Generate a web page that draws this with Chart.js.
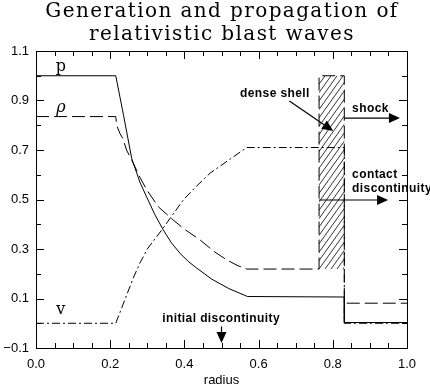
<!DOCTYPE html>
<html>
<head>
<meta charset="utf-8">
<script src="https://cdn.jsdelivr.net/npm/chart.js@4.4.0/dist/chart.umd.min.js"></script>
<style>
  html, body { margin: 0; padding: 0; background: #fff; }
  #wrap { width: 430px; height: 386px; }
</style>
</head>
<body>
<div id="wrap"><canvas id="blastChart" width="430" height="386"></canvas></div>
<script>
// profiles (radius -> value)
const pRadius   = [0, 0.215, 0.236, 0.258, 0.280, 0.298, 0.320, 0.343, 0.365, 0.388, 0.410, 0.433, 0.474, 0.520, 0.570, 0.831, 0.831, 1.0];
const pValues   = [1.0, 1.0, 0.84, 0.666, 0.57, 0.511, 0.44, 0.377, 0.325, 0.283, 0.25, 0.223, 0.178, 0.14, 0.108, 0.106, 0.003, 0.003];

const rhoRadius = [0, 0.215, 0.2175, 0.226, 0.234, 0.244, 0.258, 0.280, 0.298, 0.330, 0.370, 0.400, 0.442, 0.480, 0.514, 0.545, 0.568, 0.763, 0.763, 0.831, 0.831, 1.0];
const rhoValues = [0.835, 0.835, 0.80, 0.767, 0.747, 0.70, 0.66, 0.59, 0.54, 0.47, 0.417, 0.38, 0.337, 0.29, 0.256, 0.232, 0.219, 0.219, 1.0, 1.0, 0.081, 0.081];

const vRadius   = [0, 0.215, 0.262, 0.280, 0.300, 0.339, 0.397, 0.430, 0.469, 0.520, 0.568, 0.831, 0.831, 1.0];
const vValues   = [0, 0, 0.182, 0.243, 0.30, 0.377, 0.498, 0.55, 0.606, 0.66, 0.71, 0.71, 0, 0];

// dense shell (hatched box)
const shellRadius = [0.763, 0.831];
const shellRange  = [0.219, 1.0];

const xTickLabels = ['0.0', '0.2', '0.4', '0.6', '0.8', '1.0'];
const yTickLabels = ['\u22120.1', '0.1', '0.3', '0.5', '0.7', '0.9', '1.1'];

const toPoints = (xs, ys) => xs.map((x, i) => ({ x: x, y: ys[i] }));

function xLabel(v) {
  const s = v.toFixed(1);
  return Math.abs(v * 5 - Math.round(v * 5)) < 1e-6 && xTickLabels.includes(s) ? s : '';
}
function yLabel(v) {
  const s = v < 0 ? '\u2212' + Math.abs(v).toFixed(1) : v.toFixed(1);
  const k = Math.round(v * 10);
  return Math.abs(v * 10 - k) < 1e-6 && k % 2 !== 0 && yTickLabels.includes(s) ? s : '';
}

// inward tick marks on all four sides + frame
const frameTicks = {
  id: 'frameTicks',
  afterDraw(chart) {
    const { ctx, chartArea: a, scales } = chart;
    ctx.save();
    ctx.strokeStyle = '#000';
    ctx.lineWidth = 1;
    ctx.strokeRect(a.left + 0.5, a.top + 0.5, a.right - a.left, a.bottom - a.top);
    ctx.beginPath();
    scales.x.ticks.forEach(t => {
      const px = Math.round(scales.x.getPixelForValue(t.value)) + 0.5;
      const len = xLabel(t.value) ? 8 : 5;
      ctx.moveTo(px, a.bottom); ctx.lineTo(px, a.bottom - len);
      ctx.moveTo(px, a.top); ctx.lineTo(px, a.top + len);
    });
    scales.y.ticks.forEach(t => {
      const py = Math.round(scales.y.getPixelForValue(t.value)) + 0.5;
      const len = yLabel(t.value) ? 8 : 5;
      ctx.moveTo(a.left, py); ctx.lineTo(a.left + len, py);
      ctx.moveTo(a.right, py); ctx.lineTo(a.right - len, py);
    });
    ctx.stroke();
    ctx.restore();
  }
};

// hatched dense shell
const shellHatch = {
  id: 'shellHatch',
  beforeDatasetsDraw(chart) {
    const { ctx, scales } = chart;
    const x0 = scales.x.getPixelForValue(shellRadius[0]);
    const x1 = scales.x.getPixelForValue(shellRadius[1]);
    const y0 = scales.y.getPixelForValue(shellRange[1]);
    const y1 = scales.y.getPixelForValue(shellRange[0]);
    ctx.save();
    ctx.beginPath();
    ctx.rect(x0, y0, x1 - x0, y1 - y0);
    ctx.clip();
    ctx.strokeStyle = '#000';
    ctx.lineWidth = 0.8;
    ctx.beginPath();
    const h = y1 - y0;
    const run = h / 1.4;
    for (let s = x0 - run; s < x1 + 6; s += 6) {
      ctx.moveTo(s, y1);
      ctx.lineTo(s + run, y0);
    }
    ctx.stroke();
    ctx.restore();
  }
};

function arrow(ctx, x0, y0, x1, y1) {
  const ang = Math.atan2(y1 - y0, x1 - x0);
  const hl = 11, hw = 5;
  ctx.beginPath();
  ctx.moveTo(x0, y0);
  ctx.lineTo(x1 - hl * Math.cos(ang), y1 - hl * Math.sin(ang));
  ctx.stroke();
  ctx.beginPath();
  ctx.moveTo(x1, y1);
  ctx.lineTo(x1 - hl * Math.cos(ang) + hw * Math.sin(ang), y1 - hl * Math.sin(ang) - hw * Math.cos(ang));
  ctx.lineTo(x1 - hl * Math.cos(ang) - hw * Math.sin(ang), y1 - hl * Math.sin(ang) + hw * Math.cos(ang));
  ctx.closePath();
  ctx.fill();
}

// text notes and arrows, placed in data units
const notes = {
  id: 'notes',
  afterDraw(chart) {
    const { ctx, scales } = chart;
    const X = r => scales.x.getPixelForValue(r);
    const Y = v => scales.y.getPixelForValue(v);
    ctx.save();
    ctx.fillStyle = '#000';
    ctx.strokeStyle = '#000';
    ctx.lineWidth = 1.2;

    // title
    ctx.font = '20px "DejaVu Serif"';
    ctx.letterSpacing = '1.4px';
    ctx.textAlign = 'center';
    ctx.textBaseline = 'alphabetic';
    ctx.fillText('Generation and propagation of', 222, 17);
    ctx.fillText('relativistic blast waves', 222, 40);
    ctx.letterSpacing = '0px';

    // curve names
    ctx.textBaseline = 'middle';
    ctx.font = '16px "DejaVu Serif"';
    ctx.fillText('p', X(0.067), Y(1.038));
    ctx.font = 'italic 16px "DejaVu Serif"';
    ctx.fillText('\u03C1', X(0.067), Y(0.869));
    ctx.font = '16px "DejaVu Serif"';
    ctx.fillText('v', X(0.067), Y(0.054));

    ctx.font = 'bold 12px "Liberation Sans"';
    ctx.letterSpacing = '0.4px';
    ctx.textAlign = 'left';
    ctx.fillText('dense shell', X(0.55), Y(0.929));
    ctx.fillText('shock', X(0.852), Y(0.868));
    ctx.fillText('contact', X(0.852), Y(0.599));
    ctx.fillText('discontinuity', X(0.852), Y(0.545));
    ctx.textAlign = 'center';
    ctx.fillText('initial discontinuity', X(0.499), Y(0.017));
    ctx.letterSpacing = '0px';

    arrow(ctx, X(0.683), Y(0.898), X(0.801), Y(0.777));
    arrow(ctx, X(0.831), Y(0.829), X(0.981), Y(0.829));
    arrow(ctx, X(0.763), Y(0.498), X(0.949), Y(0.498));
    arrow(ctx, X(0.5), Y(-0.013), X(0.5), Y(-0.08));
    ctx.restore();
  }
};

const ctx = document.getElementById('blastChart').getContext('2d');
new Chart(ctx, {
  type: 'scatter',
  data: {
    datasets: [
      { label: 'p', data: toPoints(pRadius, pValues), borderDash: [] },
      { label: 'rho', data: toPoints(rhoRadius, rhoValues), borderDash: [13, 5] },
      { label: 'v', data: toPoints(vRadius, vValues), borderDash: [8, 3, 2, 3] }
    ].map(d => Object.assign(d, {
      showLine: true, borderColor: '#000', borderWidth: 1, pointRadius: 0, tension: 0, fill: false
    }))
  },
  options: {
    responsive: false,
    animation: false,
    devicePixelRatio: 1,
    layout: { padding: { top: 51, right: 23, left: 0, bottom: 0 } },
    plugins: { legend: { display: false }, tooltip: { enabled: false }, title: { display: false } },
    scales: {
      x: {
        type: 'linear', min: 0, max: 1,
        grid: { display: false, drawTicks: false },
        border: { display: false },
        ticks: { stepSize: 0.05, autoSkip: false, maxRotation: 0, padding: 9, color: '#000',
                 font: { family: 'Liberation Sans', size: 13 }, callback: v => xLabel(v) },
        title: { display: true, text: 'radius', color: '#000', padding: { top: 0, bottom: -2 },
                 font: { family: 'Liberation Sans', size: 13 } },
        afterFit: s => { s.height = 38; }
      },
      y: {
        type: 'linear', min: -0.1, max: 1.1,
        grid: { display: false, drawTicks: false },
        border: { display: false },
        ticks: { stepSize: 0.1, autoSkip: false, padding: 7, color: '#000',
                 font: { family: 'Liberation Sans', size: 13 }, callback: v => yLabel(v) },
        afterFit: s => { s.width = 36; }
      }
    }
  },
  plugins: [shellHatch, frameTicks, notes]
});
</script>
</body>
</html>
